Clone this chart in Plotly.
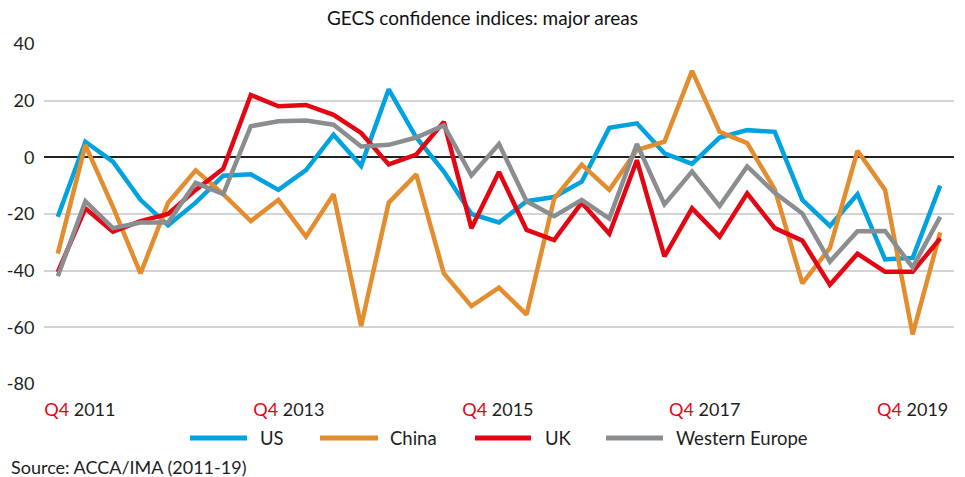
import plotly.graph_objects as go

# quarterly survey readings, Q4 2011 .. Q4 2019 (33 quarters)
quarters = list(range(33))

us = [-21, 5.5, -1.5, -15, -24, -16, -6.5, -6, -11.5, -4.5, 8, -3,
      24, 7, -5, -20, -23, -15.5, -14, -8.6, 10.4, 12, 1.4, -2.3,
      7, 9.6, 9, -15, -24.2, -13, -36, -35.5, -10]
china = [-34, 4.3, -17.5, -41, -16, -4.6, -13, -22.5, -15, -28, -13, -59.5,
         -16, -6, -41, -52.5, -46, -55.5, -14.6, -2.6, -11.5, 2.6, 5.5, 30.5,
         9, 5, -11.3, -44.5, -32, 2.3, -11.5, -62.5, -26.5]
uk = [-40.5, -18, -26.2, -22.5, -20, -11.5, -4, 22, 18, 18.5, 15, 8.6,
      -2.5, 1, 12.5, -25, -5.2, -25.6, -29.2, -16, -27, -1, -35, -18,
      -28, -12.7, -25, -29.4, -45, -34, -40.4, -40.4, -28.6]
w_europe = [-42, -15.5, -25, -23, -23, -9, -13, 11, 12.7, 13, 11.5, 3.8,
            4.4, 7, 11.3, -6.4, 4.7, -15.5, -20.8, -15, -21.6, 4.7, -16.6, -5,
            -17.2, -3.2, -12.5, -19.8, -36.8, -26.1, -26, -38.8, -21]

series_names = ["US", "China", "UK", "Western Europe"]
series_values = [us, china, uk, w_europe]
colors = ["#00A3DF", "#E38D2F", "#E30613", "#8B8E90"]

tick_years = ["2011", "2013", "2015", "2017", "2019"]
tick_labels = ["<span style='color:#E30613'>Q4</span> " + y for y in tick_years]
y_ticks = [-80, -60, -40, -20, 0, 20, 40]

FONT = "Lato, 'Noto Sans', sans-serif"
W, H = 965, 477
L, R, T, B = 44, 11, 44, 93

fig = go.Figure()
for name, vals, col in zip(series_names, series_values, colors):
    fig.add_trace(go.Scatter(
        x=quarters, y=vals, mode="lines", name=name,
        line=dict(color=col, width=4.5), showlegend=False,
    ))

fig.update_layout(
    width=W, height=H,
    margin=dict(l=L, r=R, t=T, b=B),
    paper_bgcolor="white", plot_bgcolor="white",
    font=dict(family=FONT, color="#1E1E1E", size=17),
    title=dict(text="GECS confidence indices: major areas",
               x=0.5, xanchor="center", y=0.962, yanchor="middle",
               font=dict(size=19, color="#111111")),
)

fig.update_xaxes(
    range=[-0.5, 32.5], automargin=False,
    tickmode="array",
    tickvals=[0.8, 8.38, 15.96, 23.46, 31.0],
    ticktext=tick_labels,
    showgrid=False, zeroline=False, showline=False,
    ticks="outside", ticklen=9, tickcolor="rgba(0,0,0,0)",
    tickfont=dict(size=18, color="#1E1E1E"),
)
fig.update_yaxes(
    range=[-80, 40], automargin=False,
    tickmode="array", tickvals=y_ticks,
    ticktext=[str(v) for v in y_ticks],
    showgrid=True, gridcolor="#D4D4D4", gridwidth=1.5,
    zeroline=True, zerolinecolor="#222222", zerolinewidth=1.5,
    showline=False, ticks="outside", ticklen=5, tickcolor="rgba(0,0,0,0)",
    tickfont=dict(size=18, color="#1E1E1E"),
)

# hand-built legend row below the axis (wider line swatches than plotly's)
def px_x(p):
    return (p - L) / (W - L - R)

def px_y(p):
    return (H - B - p) / (H - T - B)

legend_rows = [(190, 247, 258), (320, 378, 388), (475, 531, 543), (606, 663, 674)]
for (x0, x1, xt), name, col in zip(legend_rows, series_names, colors):
    fig.add_shape(type="line", xref="paper", yref="paper",
                  x0=px_x(x0), x1=px_x(x1), y0=px_y(438), y1=px_y(438),
                  line=dict(color=col, width=5))
    fig.add_annotation(text=name, xref="paper", yref="paper",
                       x=px_x(xt), y=px_y(438), xanchor="left", yanchor="middle",
                       showarrow=False, font=dict(size=18.5, color="#1E1E1E"))

fig.add_annotation(text="Source: ACCA/IMA (2011-19)", xref="paper", yref="paper",
                   x=px_x(9), y=px_y(467), xanchor="left", yanchor="middle",
                   showarrow=False, font=dict(size=18, color="#1E1E1E"))

fig.write_html("out.html", config={"displayModeBar": False},
               post_script="document.body.style.margin='0';")
